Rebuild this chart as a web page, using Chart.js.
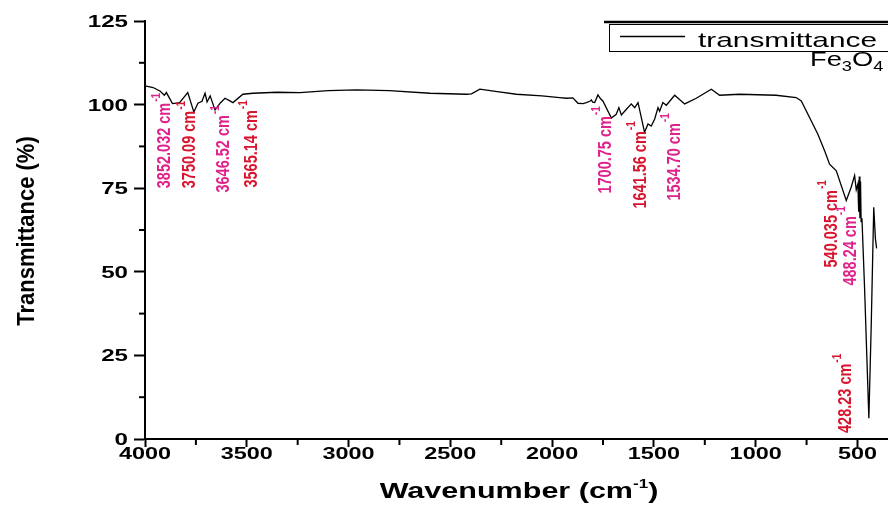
<!DOCTYPE html>
<html><head><meta charset="utf-8">
<script src="https://cdn.jsdelivr.net/npm/chart.js@4.4.1/dist/chart.umd.min.js"></script>
<style>html,body{margin:0;padding:0;background:#fff;overflow:hidden}canvas{display:block}</style>
</head><body>
<canvas id="c" width="888" height="508"></canvas>
<script>
// ---- data ----
const WAVENUMBER = [4000,3960,3925,3905,3895,3865,3830,3790,3760,3740,3720,3705,3695,3680,3656,3630,3607,3585,3568,3519,3470,3350,3239,3100,2961,2800,2600,2421,2396,2355,2270,2175,2050,1963,1930,1898,1873,1848,1832,1815,1807,1801,1791,1775,1763,1750,1709,1685,1672,1660,1635,1611,1594,1578,1562,1546,1529,1513,1496,1480,1472,1456,1439,1398,1349,1292,1218,1177,1079,900,801,776,695,660,637,604,555,531,514,506,498,494,491,488,485,482,478,465,444,432,420,412,406];
const TRANSMITTANCE = [105.6,105.1,104.0,102.8,103.6,100.3,100.6,103.6,97.8,100.4,101.0,103.4,100.8,102.6,98.4,100.5,101.9,101.2,100.6,103.1,103.4,103.7,103.6,104.2,104.4,104.2,103.4,103.1,103.2,104.6,103.9,103.1,102.6,102.1,101.9,102.0,100.4,100.3,100.6,101.0,101.4,100.7,100.6,102.9,101.8,101.0,96.0,97.1,99.1,96.9,98.6,100.2,99.1,100.6,96.2,91.7,94.2,93.6,95.7,99.1,98.0,100.6,99.8,102.8,100.2,101.9,104.6,102.8,103.1,102.8,102.1,101.1,91.2,86.0,82.2,80.2,71.3,75.3,78.8,74.5,76.3,68.0,78.5,66.0,77.0,65.0,66.0,45.0,6.2,35.0,69.3,60.0,57.0];
const X_TICKS = [4000,3500,3000,2500,2000,1500,1000,500];
const Y_TICKS = [0,25,50,75,100,125];
const PEAK_LABELS = ['3852.032 cm','3750.09 cm','3646.52 cm','3565.14 cm','1700.75 cm','1641.56 cm','1534.70 cm','540.035 cm','488.24 cm','428.23 cm'];
const SERIES_NAME = 'transmittance';
const X_TITLE = 'Wavenumber (cm';
const Y_TITLE = 'Transmittance (%)';

// ---- annotation layout (label start anchors, in axis units) ----
const LABEL_ANCHOR_X = [3902,3779,3612,3475,1737,1565,1398,627,534,554];
const LABEL_ANCHOR_Y = [75,75,73.7,75.2,73.4,68.9,71.3,51.3,45.9,1.8];
const MAGENTA = '#e0228c', RED = '#d8152e';
const LABEL_COLORS = [MAGENTA,RED,MAGENTA,RED,MAGENTA,RED,MAGENTA,RED,MAGENTA,RED];

const SX = 1.42;
const FF = "'Liberation Sans', Arial, sans-serif";

function hText(ctx, s, x, y, font, align, sx, color){
  ctx.save(); ctx.translate(x,y); ctx.scale(sx,1);
  ctx.font=font; ctx.textAlign=align; ctx.textBaseline='alphabetic';
  ctx.fillStyle=color||'#000'; ctx.fillText(s,0,0); ctx.restore();
}
function measure(ctx, s, font, sx){ ctx.save(); ctx.font=font; const w=ctx.measureText(s).width*sx; ctx.restore(); return w; }

const decor = {
  id:'decor',
  afterDraw(chart){
    const ctx=chart.ctx, xs=chart.scales.x, ys=chart.scales.y, ca=chart.chartArea;
    ctx.save();
    // minor ticks
    ctx.strokeStyle='#000'; ctx.lineWidth=2;
    for(let i=0;i<X_TICKS.length;i++){
      const v=X_TICKS[i]-250; if(v<xs.min) continue;
      const px=xs.getPixelForValue(v);
      ctx.beginPath(); ctx.moveTo(px,ca.bottom); ctx.lineTo(px,ca.bottom+6); ctx.stroke();
    }
    for(let i=0;i<Y_TICKS.length-1;i++){
      const py=ys.getPixelForValue(Y_TICKS[i]+12.5);
      ctx.beginPath(); ctx.moveTo(ca.left,py); ctx.lineTo(ca.left-6,py); ctx.stroke();
    }
    // tick labels
    const tf="bold 16.5px "+FF;
    X_TICKS.forEach(v=>{ hText(ctx,String(v),xs.getPixelForValue(v),459,tf,'center',SX); });
    const yf="bold 17px "+FF;
    Y_TICKS.forEach(v=>{ hText(ctx,String(v),128,ys.getPixelForValue(v)+6,yf,'right',SX); });
    // x title
    const f1="bold 21.5px "+FF, f2="bold 12px "+FF;
    const w1=measure(ctx,X_TITLE,f1,SX), w2=measure(ctx,'-1',f2,SX), w3=measure(ctx,')',f1,SX);
    let sx0=519-(w1+w2+w3)/2;
    hText(ctx,X_TITLE,sx0,498,f1,'left',SX);
    hText(ctx,'-1',sx0+w1,488,f2,'left',SX);
    hText(ctx,')',sx0+w1+w2,498,f1,'left',SX);
    // y title
    ctx.save(); ctx.translate(27,231); ctx.rotate(-Math.PI/2); ctx.scale(1,1.12);
    ctx.font="bold 22px "+FF; ctx.textAlign='center'; ctx.textBaseline='middle'; ctx.fillStyle='#000';
    ctx.fillText(Y_TITLE,0,0); ctx.restore();
    // peak annotations
    PEAK_LABELS.forEach((s,i)=>{
      const px=xs.getPixelForValue(LABEL_ANCHOR_X[i]), py=ys.getPixelForValue(LABEL_ANCHOR_Y[i]);
      ctx.save(); ctx.translate(px,py); ctx.rotate(-Math.PI/2); ctx.scale(1,1.25);
      ctx.fillStyle=LABEL_COLORS[i]; ctx.textAlign='left'; ctx.textBaseline='middle';
      ctx.font="bold 14.5px "+FF; ctx.fillText(s,0,0);
      const w=ctx.measureText(s).width;
      ctx.font="bold 10px "+FF; ctx.fillText('-1',w+1,-7);
      ctx.restore();
    });
    // legend box
    ctx.strokeStyle='#000'; ctx.lineWidth=2.5;
    ctx.beginPath(); ctx.moveTo(604,22); ctx.lineTo(900,22); ctx.stroke();
    ctx.lineWidth=1; ctx.strokeRect(609.5,24.5,300,27);
    ctx.lineWidth=1.3; ctx.beginPath(); ctx.moveTo(620,36.5); ctx.lineTo(685,36.5); ctx.stroke();
    hText(ctx,SERIES_NAME,698,46.5,"21px "+FF,'left',SX);
    // sample name Fe3O4
    const fa="21px "+FF, fb="14px "+FF, sxs=1.3;
    let x=810;
    hText(ctx,'Fe',x,66,fa,'left',sxs); x+=measure(ctx,'Fe',fa,sxs);
    hText(ctx,'3',x,71,fb,'left',sxs); x+=measure(ctx,'3',fb,sxs);
    hText(ctx,'O',x,66,fa,'left',sxs); x+=measure(ctx,'O',fa,sxs);
    hText(ctx,'4',x,71,fb,'left',sxs);
    ctx.restore();
  }
};

new Chart(document.getElementById('c'),{
  type:'line',
  data:{datasets:[{label:SERIES_NAME,data:WAVENUMBER.map((w,i)=>({x:w,y:TRANSMITTANCE[i]})),borderColor:'#000',borderWidth:1.3,pointRadius:0,tension:0,fill:false}]},
  options:{
    responsive:false,animation:false,devicePixelRatio:1,
    layout:{padding:{top:21,right:0,bottom:0,left:0}},
    plugins:{legend:{display:false},tooltip:{enabled:false}},
    scales:{
      x:{type:'linear',reverse:true,min:350,max:4000,
        afterBuildTicks:s=>{s.ticks=X_TICKS.map(v=>({value:v}));},
        afterFit:s=>{s.height=69;},
        ticks:{display:false},
        grid:{drawOnChartArea:false,drawTicks:true,tickLength:8,tickWidth:2,tickColor:'#000'},
        border:{color:'#000',width:2}},
      y:{min:0,max:125,
        afterBuildTicks:s=>{s.ticks=Y_TICKS.map(v=>({value:v}));},
        afterFit:s=>{s.width=145;},
        ticks:{display:false},
        grid:{drawOnChartArea:false,drawTicks:true,tickLength:11,tickWidth:2,tickColor:'#000'},
        border:{color:'#000',width:2}}
    }
  },
  plugins:[decor]
});
</script>
</body></html>
